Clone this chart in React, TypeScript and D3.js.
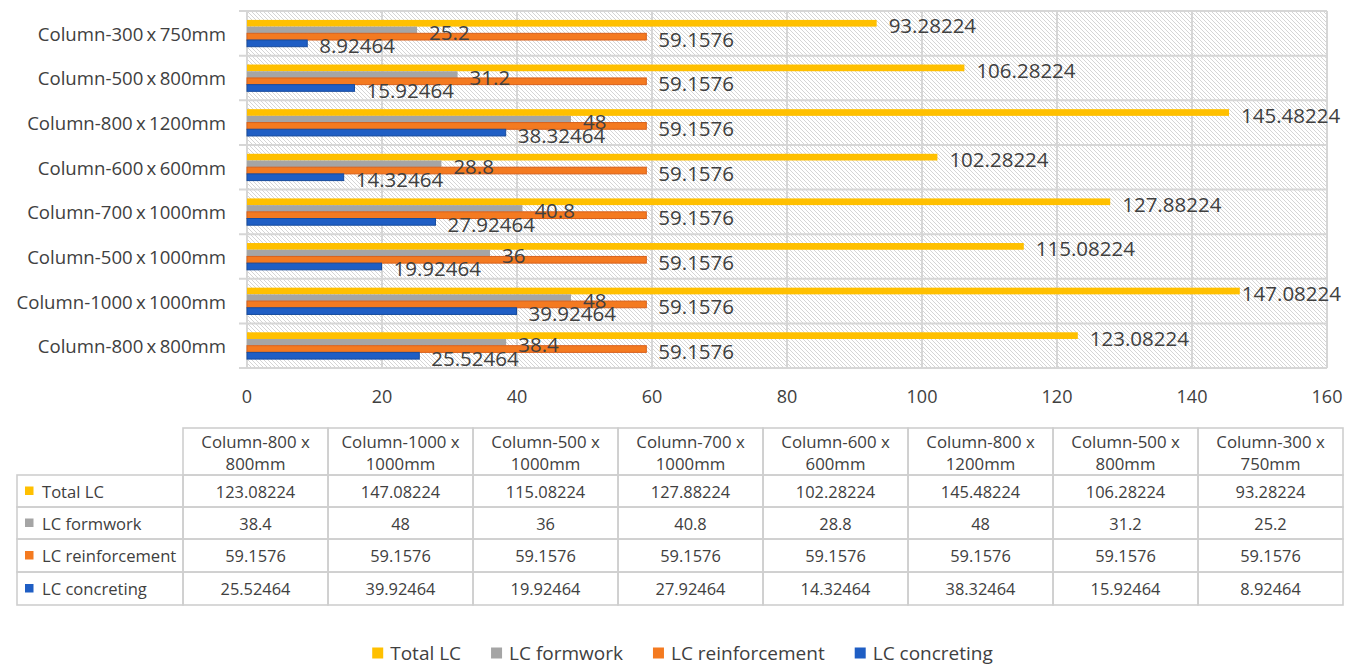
import React, { useEffect, useRef } from "react";
import * as d3 from "d3";

const categories = [
  "Column-800 x 800mm",
  "Column-1000 x 1000mm",
  "Column-500 x 1000mm",
  "Column-700 x 1000mm",
  "Column-600 x 600mm",
  "Column-800 x 1200mm",
  "Column-500 x 800mm",
  "Column-300 x 750mm",
];
const seriesNames = ["Total LC", "LC formwork", "LC reinforcement", "LC concreting"];
const totalLC = [123.08224, 147.08224, 115.08224, 127.88224, 102.28224, 145.48224, 106.28224, 93.28224];
const lcFormwork = [38.4, 48, 36, 40.8, 28.8, 48, 31.2, 25.2];
const lcReinforcement = [59.1576, 59.1576, 59.1576, 59.1576, 59.1576, 59.1576, 59.1576, 59.1576];
const lcConcreting = [25.52464, 39.92464, 19.92464, 27.92464, 14.32464, 38.32464, 15.92464, 8.92464];
const xTicks = [0, 20, 40, 60, 80, 100, 120, 140, 160];

const seriesValues = [totalLC, lcFormwork, lcReinforcement, lcConcreting];
const fills = ["#FFC000", "#A5A5A5", "#F47A20", "#1F5EC4"];
const strokes = ["none", "none", "#D8601A", "#184C9E"];

const FONT = "'Open Sans', sans-serif";
const TXT = "#404040";

export default function App() {
  const ref = useRef<SVGSVGElement>(null);

  useEffect(() => {
    const svg = d3.select(ref.current);
    svg.selectAll("*").remove();

    const defs = svg.append("defs");
    const pat = defs
      .append("pattern")
      .attr("id", "hatch")
      .attr("patternUnits", "userSpaceOnUse")
      .attr("width", 4)
      .attr("height", 4);
    pat.append("rect").attr("width", 4).attr("height", 4).attr("fill", "#ffffff");
    [
      [0, 0, 4, 4],
      [-1, 3, 1, 5],
      [3, -1, 5, 1],
    ].forEach(([x1, y1, x2, y2]) =>
      pat
        .append("line")
        .attr("x1", x1)
        .attr("y1", y1)
        .attr("x2", x2)
        .attr("y2", y2)
        .attr("stroke", "#CACACA")
        .attr("stroke-width", 0.8)
    );

    const x = d3.scaleLinear().domain([0, 160]).range([247, 1327]);
    const y = d3
      .scaleBand<string>()
      .domain(categories.slice().reverse())
      .range([11, 368])
      .padding(0);
    const inner = d3
      .scaleBand<string>()
      .domain(seriesNames)
      .range([0, y.bandwidth()])
      .paddingInner(0)
      .paddingOuter(1.33);

    // plot background
    svg
      .append("rect")
      .attr("x", x(0))
      .attr("y", 11)
      .attr("width", x(160) - x(0))
      .attr("height", 368 - 11)
      .attr("fill", "url(#hatch)");

    const grid = svg.append("g").attr("stroke", "#D6D6D6").attr("stroke-width", 2);
    xTicks.forEach((t) =>
      grid.append("line").attr("x1", x(t)).attr("x2", x(t)).attr("y1", 11).attr("y2", 368)
    );
    const bounds = categories.map((c) => y(c)!).concat([368]);
    bounds.forEach((b) =>
      grid.append("line").attr("x1", x(0) - 8).attr("x2", x(160)).attr("y1", b).attr("y2", b)
    );

    // bars
    seriesNames.forEach((s, si) => {
      const g = svg.append("g");
      categories.forEach((c, ci) => {
        const v = seriesValues[si][ci];
        g.append("rect")
          .attr("x", x(0))
          .attr("y", y(c)! + inner(s)!)
          .attr("width", x(v) - x(0))
          .attr("height", inner.bandwidth())
          .attr("fill", fills[si])
          .attr("stroke", strokes[si])
          .attr("stroke-width", strokes[si] === "none" ? 0 : 1);
      });
    });

    // data labels
    seriesNames.forEach((s, si) => {
      categories.forEach((c, ci) => {
        const v = seriesValues[si][ci];
        const t = svg
          .append("text")
          .attr("x", x(v) + 12)
          .attr("y", y(c)! + inner(s)! + inner.bandwidth() / 2 + 2)
          .attr("dominant-baseline", "central")
          .attr("font-family", FONT)
          .attr("font-size", 20.5)
          .attr("fill", TXT)
          .text(String(v));
        const w = (t.node() as SVGTextElement).getComputedTextLength();
        const maxRight = 1341;
        if (x(v) + 12 + w > maxRight) t.attr("x", maxRight - w);
      });
    });

    // category labels
    categories.forEach((c) => {
      svg
        .append("text")
        .attr("x", 226)
        .attr("y", y(c)! + y.bandwidth() / 2)
        .attr("text-anchor", "end")
        .attr("dominant-baseline", "central")
        .attr("font-family", FONT)
        .attr("font-size", 18.6)
        .attr("word-spacing", -1.5)
        .attr("fill", TXT)
        .text(c);
    });

    // x tick labels
    xTicks.forEach((t) => {
      svg
        .append("text")
        .attr("x", x(t))
        .attr("y", 396)
        .attr("text-anchor", "middle")
        .attr("dominant-baseline", "central")
        .attr("font-family", FONT)
        .attr("font-size", 18)
        .attr("fill", TXT)
        .text(String(t));
    });

    // data table
    const colX = d3.scaleBand<string>().domain(categories).range([183, 1343]);
    const rowEdges = [475, 507, 539, 572, 605];
    const tg = svg.append("g").attr("stroke", "#CFCFCF").attr("stroke-width", 1.6).attr("fill", "none");
    categories.forEach((c) => {
      tg.append("rect").attr("x", colX(c)!).attr("y", 428).attr("width", colX.bandwidth()).attr("height", 475 - 428);
    });
    for (let r = 0; r < 4; r++) {
      tg.append("rect").attr("x", 17).attr("y", rowEdges[r]).attr("width", 183 - 17).attr("height", rowEdges[r + 1] - rowEdges[r]);
      categories.forEach((c) => {
        tg.append("rect")
          .attr("x", colX(c)!)
          .attr("y", rowEdges[r])
          .attr("width", colX.bandwidth())
          .attr("height", rowEdges[r + 1] - rowEdges[r]);
      });
    }
    categories.forEach((c) => {
      const parts = c.split(" x ");
      const cx = colX(c)! + colX.bandwidth() / 2;
      [parts[0] + " x", parts[1]].forEach((line, li) => {
        svg
          .append("text")
          .attr("x", cx)
          .attr("y", 441 + li * 22.5)
          .attr("text-anchor", "middle")
          .attr("dominant-baseline", "central")
          .attr("font-family", FONT)
          .attr("font-size", 16.8)
          .attr("fill", TXT)
          .text(line);
      });
    });
    seriesNames.forEach((s, si) => {
      const cy = (rowEdges[si] + rowEdges[si + 1]) / 2;
      svg.append("rect").attr("x", 25).attr("y", cy - 4.5).attr("width", 8.5).attr("height", 8.5).attr("fill", fills[si]);
      svg
        .append("text")
        .attr("x", 42)
        .attr("y", cy)
        .attr("dominant-baseline", "central")
        .attr("font-family", FONT)
        .attr("font-size", 16.6)
        .attr("fill", TXT)
        .text(s);
      categories.forEach((c, ci) => {
        svg
          .append("text")
          .attr("x", colX(c)! + colX.bandwidth() / 2)
          .attr("y", cy)
          .attr("text-anchor", "middle")
          .attr("dominant-baseline", "central")
          .attr("font-family", FONT)
          .attr("font-size", 16.4)
          .attr("fill", TXT)
          .text(String(seriesValues[si][ci]));
      });
    });

    // legend
    const lg = svg.append("g");
    const items = seriesNames.map((s, si) => {
      const g = lg.append("g");
      g.append("rect").attr("x", 0).attr("y", -5.5).attr("width", 11).attr("height", 11).attr("fill", fills[si]);
      const t = g
        .append("text")
        .attr("x", 18)
        .attr("y", 0)
        .attr("dominant-baseline", "central")
        .attr("font-family", FONT)
        .attr("font-size", 19)
        .attr("fill", TXT)
        .text(s);
      const w = 18 + (t.node() as SVGTextElement).getComputedTextLength();
      return { g, w };
    });
    const gap = 30;
    const total = d3.sum(items, (d) => d.w) + gap * (items.length - 1);
    let cx = 682.5 - total / 2;
    items.forEach((it) => {
      it.g.attr("transform", `translate(${cx},653)`);
      cx += it.w + gap;
    });
  }, []);

  return (
    <svg
      ref={ref}
      width={1365}
      height={668}
      style={{ position: "absolute", left: 0, top: 0, background: "#ffffff" }}
    />
  );
}
